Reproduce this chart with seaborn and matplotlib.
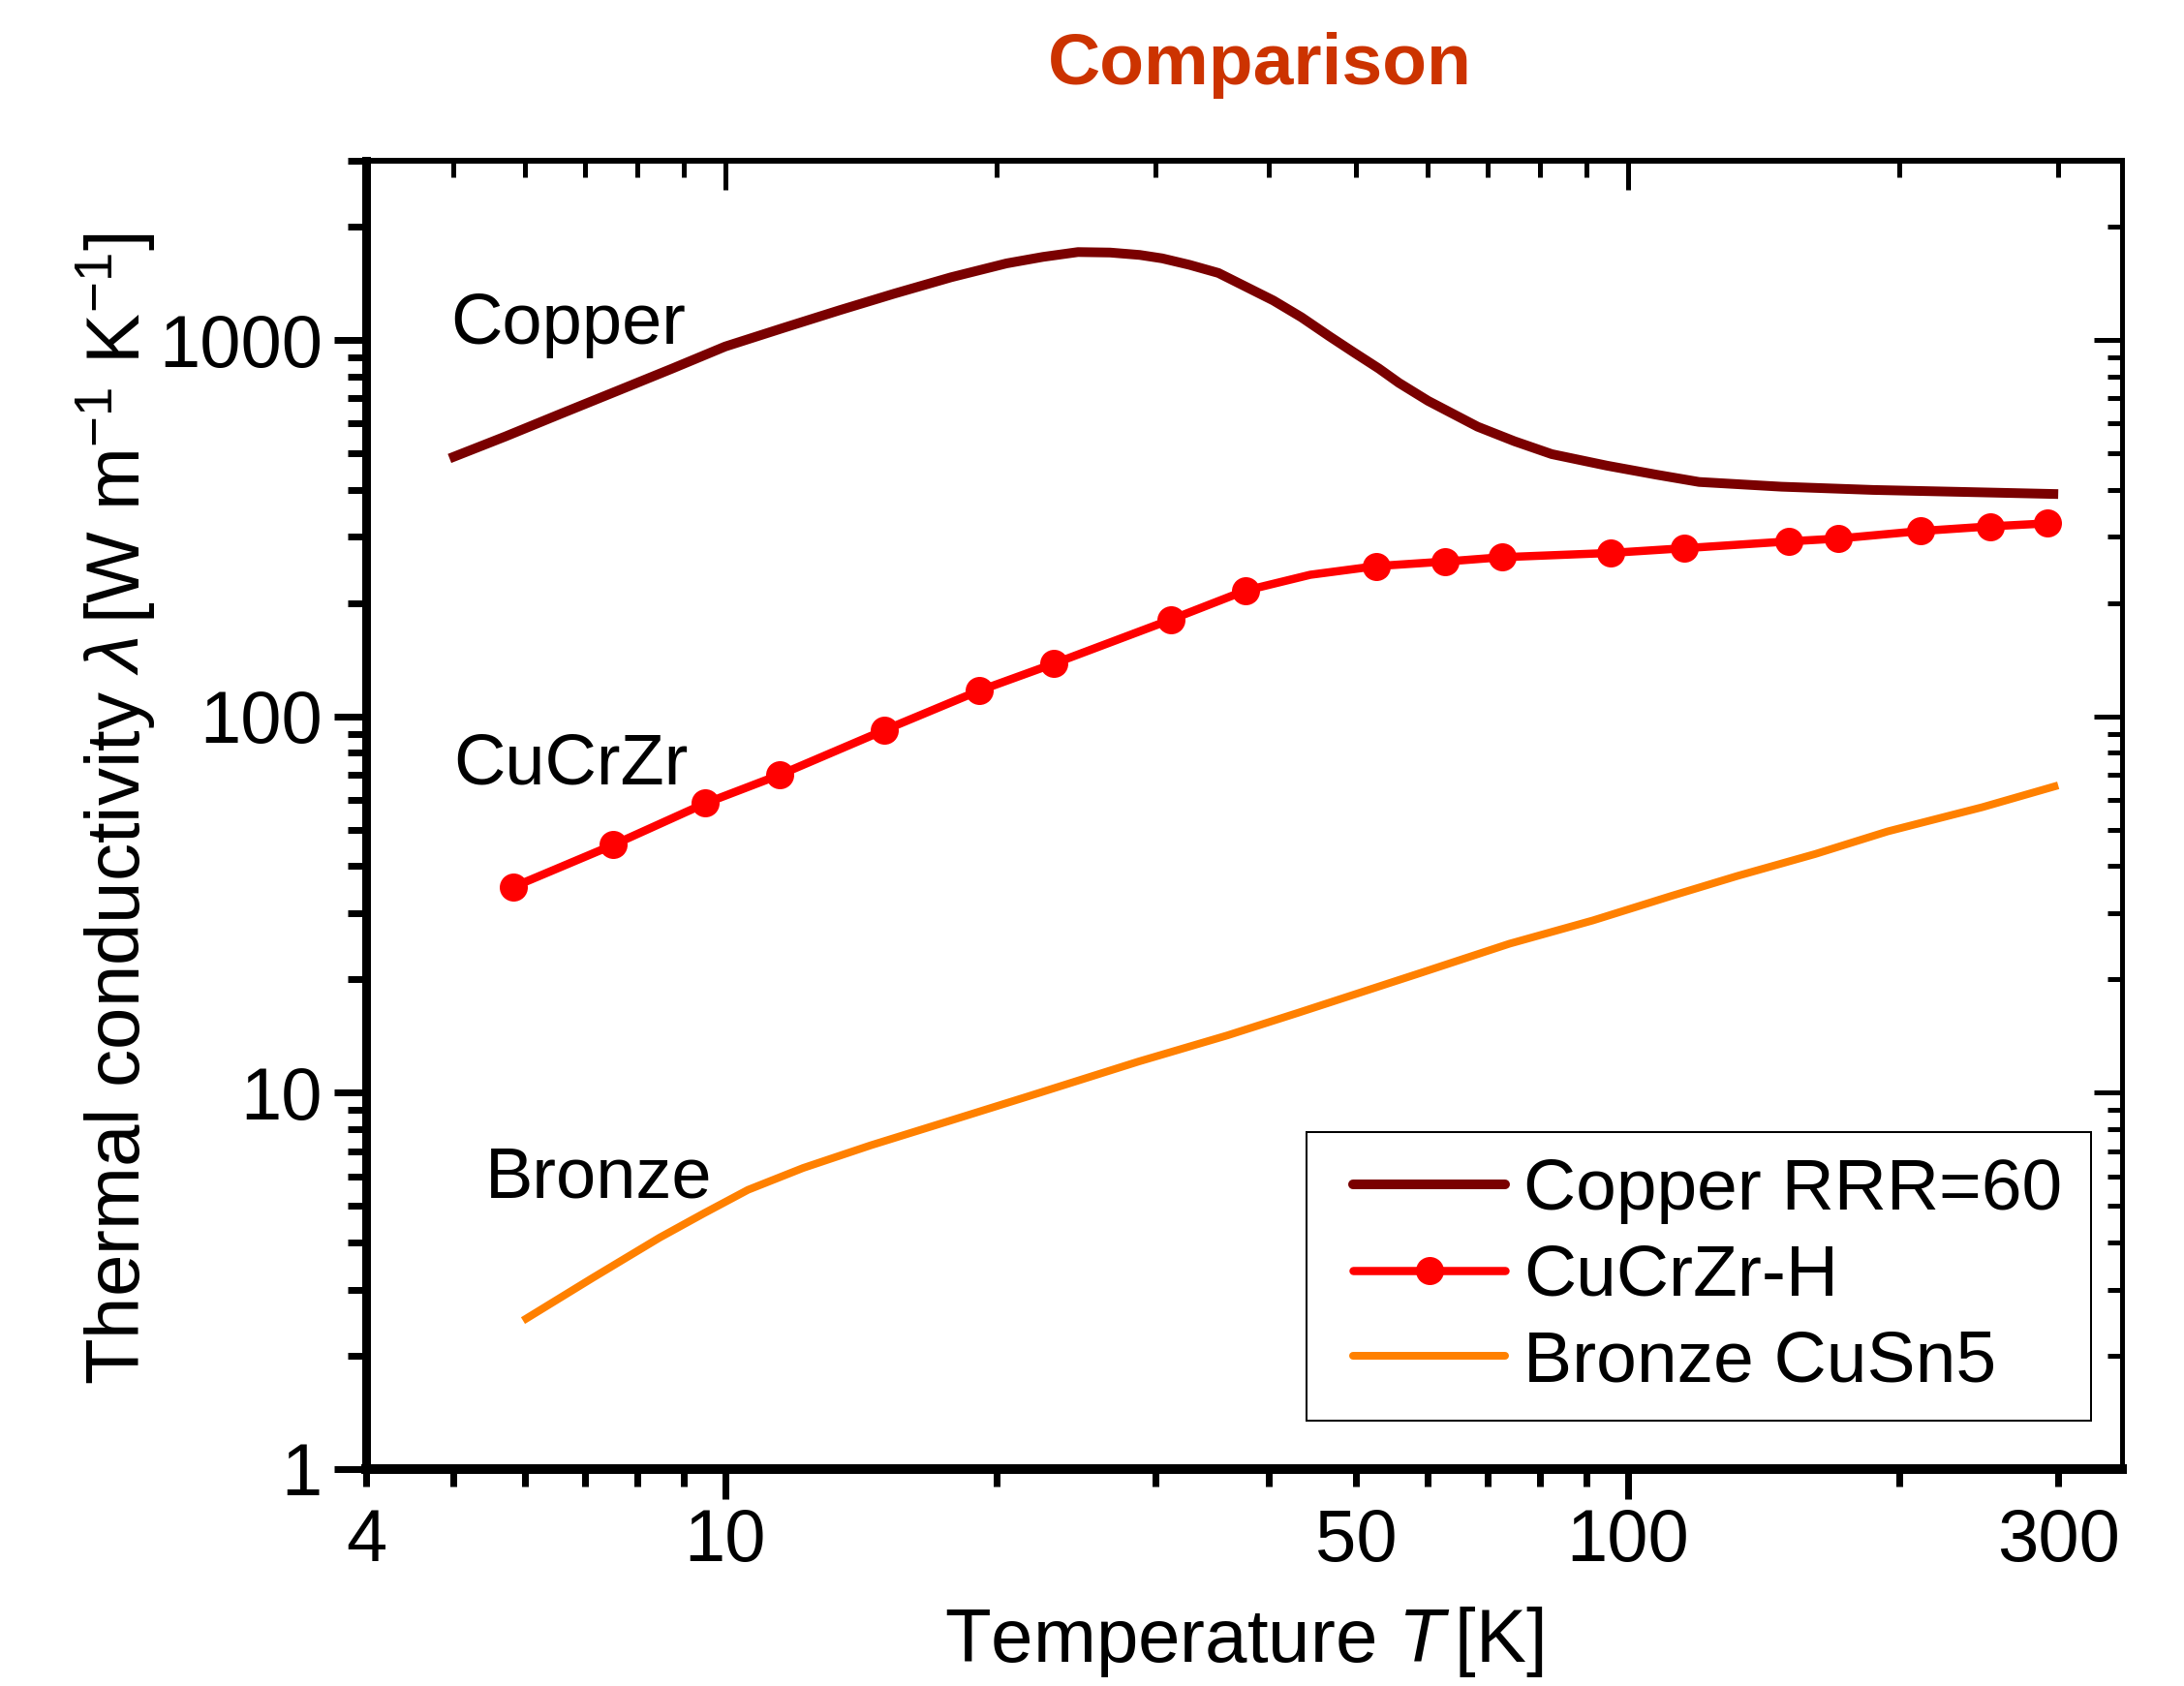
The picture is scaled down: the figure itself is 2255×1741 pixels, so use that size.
import matplotlib
matplotlib.use("Agg")
import matplotlib.pyplot as plt
import seaborn as sns
import pandas as pd
from matplotlib.patches import Rectangle
from matplotlib.lines import Line2D
from matplotlib.ticker import FixedLocator, FixedFormatter, NullFormatter

# ---------------- data ----------------
copper_T = [4.95, 5.71, 6.58, 7.58, 8.74, 10.0, 11.6, 13.4, 15.4, 17.8, 20.5, 22.5,
            24.6, 26.7, 28.8, 30.5, 32.7, 35.2, 40.5, 43.5, 46.7, 49.7, 53.0, 55.8,
            60.1, 68.2, 74.9, 82.4, 94.9, 107.7, 120, 148, 187, 237, 300]
copper_k = [485, 555, 638, 732, 841, 962, 1078, 1202, 1330, 1470, 1600, 1665,
            1715, 1710, 1685, 1650, 1586, 1509, 1275, 1151, 1025, 929, 841, 770,
            690, 589, 539, 498, 464, 439, 420, 408, 400, 395, 390]

# CuCrZr-H: measured points (markers) and the connecting line
cucrzr_T = [5.82, 7.52, 9.51, 11.5, 15.0, 19.1, 23.1, 31.2, 37.7, 52.7, 62.7,
            72.6, 95.7, 115.6, 151, 171, 211, 252, 292]
cucrzr_k = [35.2, 45.6, 58.8, 70.0, 91.9, 117, 138, 181, 216, 251, 258,
            265, 272, 280, 292, 297, 311, 320, 326]
cucrzr_line_T = [5.82, 7.52, 9.51, 11.5, 15.0, 19.1, 23.1, 31.2, 37.7, 44.5, 52.7,
                 62.7, 72.6, 95.7, 115.6, 151, 171, 211, 252, 292]
cucrzr_line_k = [35.2, 45.6, 58.8, 70.0, 91.9, 117, 138, 181, 216, 238, 251,
                 258, 265, 272, 280, 292, 297, 311, 320, 326]

bronze_T = [5.97, 7.13, 8.46, 9.47, 10.6, 12.2, 14.5, 17.7, 21.6, 28.7, 36.0,
            43.1, 58.9, 74.0, 91.5, 111.6, 132.4, 161.4, 194.2, 247.2, 300]
bronze_k = [2.48, 3.22, 4.12, 4.78, 5.52, 6.31, 7.25, 8.41, 9.76, 12.1, 14.2,
            16.3, 20.8, 24.9, 28.7, 33.3, 37.7, 43.1, 49.5, 57.4, 65.6]

series_labels = ["Copper RRR=60", "CuCrZr-H", "Bronze CuSn5"]
series_colors = ["#7A0000", "#FF0000", "#FF8000"]

annot_texts = ["Copper", "CuCrZr", "Bronze"]
annot_T = [4.96, 5.0, 5.42]
annot_k = [976, 66.0, 5.26]

x_major = [10, 100]
x_major_labels = ["10", "100"]
x_minor = [4, 5, 6, 7, 8, 9, 20, 30, 40, 50, 60, 70, 80, 90, 200, 300]
x_minor_labels = ["4", "", "", "", "", "", "", "", "", "50", "", "", "", "", "", "300"]
y_major = [1, 10, 100, 1000]
y_major_labels = ["1", "10", "100", "1000"]
y_minor = [2, 3, 4, 5, 6, 7, 8, 9, 20, 30, 40, 50, 60, 70, 80, 90,
           200, 300, 400, 500, 600, 700, 800, 900, 2000, 3000]

title_text = "Comparison"
xlabel_text = r"Temperature $T\,$[K]"
ylabel_text = r"Thermal conductivity $\lambda\,$[W m$^{-1}$ K$^{-1}$]"

# ---------------- style ----------------
sns.set_theme(style="white")
plt.rcParams["font.family"] = ["Liberation Sans", "DejaVu Sans"]
plt.rcParams["mathtext.fontset"] = "custom"
plt.rcParams["mathtext.rm"] = "Liberation Sans"
plt.rcParams["mathtext.it"] = "Liberation Sans:italic"
plt.rcParams["mathtext.bf"] = "Liberation Sans:bold"
for key in ["text.color", "axes.labelcolor", "xtick.color", "ytick.color",
            "axes.edgecolor", "xtick.labelcolor", "ytick.labelcolor"]:
    plt.rcParams[key] = "black"

FS_TICK = 76
FS_LABEL = 78
FS_ANNOT = 74
FS_LEG = 75
DPI = 72
fig = plt.figure(figsize=(2255 / DPI, 1741 / DPI), dpi=DPI)
fig.patch.set_facecolor("white")
ax = fig.add_axes([0.1676, 0.1287, 0.9716 - 0.1676, 0.9047 - 0.1287])

df_cu = pd.DataFrame({"T": copper_T, "k": copper_k})
df_czl = pd.DataFrame({"T": cucrzr_line_T, "k": cucrzr_line_k})
df_cz = pd.DataFrame({"T": cucrzr_T, "k": cucrzr_k})
df_br = pd.DataFrame({"T": bronze_T, "k": bronze_k})

sns.lineplot(data=df_cu, x="T", y="k", ax=ax, color=series_colors[0], lw=10,
             estimator=None, sort=False, solid_capstyle="butt")
sns.lineplot(data=df_czl, x="T", y="k", ax=ax, color=series_colors[1], lw=8.5,
             estimator=None, sort=False, solid_capstyle="butt")
sns.scatterplot(data=df_cz, x="T", y="k", ax=ax, color=series_colors[1],
                s=29 ** 2, linewidth=0, zorder=3)
sns.lineplot(data=df_br, x="T", y="k", ax=ax, color=series_colors[2], lw=8,
             estimator=None, sort=False, solid_capstyle="butt")

ax.set_xscale("log")
ax.set_yscale("log")
ax.set_xlim(4, 353)
ax.set_ylim(1, 3000)

# bottom / left ticks (outward)
ax.xaxis.set_major_locator(FixedLocator(x_major))
ax.xaxis.set_major_formatter(FixedFormatter(x_major_labels))
ax.xaxis.set_minor_locator(FixedLocator(x_minor))
ax.xaxis.set_minor_formatter(FixedFormatter(x_minor_labels))
ax.yaxis.set_major_locator(FixedLocator(y_major))
ax.yaxis.set_major_formatter(FixedFormatter(y_major_labels))
ax.yaxis.set_minor_locator(FixedLocator(y_minor))
ax.yaxis.set_minor_formatter(NullFormatter())

ax.tick_params(axis="x", which="major", direction="out", length=31, width=7,
               pad=9, labelsize=FS_TICK, bottom=True, top=False,
               color="black", labelcolor="black")
ax.tick_params(axis="x", which="minor", direction="out", length=18, width=7,
               pad=22, labelsize=FS_TICK, bottom=True, top=False,
               color="black", labelcolor="black")
ax.tick_params(axis="y", which="major", direction="out", length=33, width=7,
               pad=12, labelsize=FS_TICK, left=True, right=False,
               color="black", labelcolor="black")
ax.tick_params(axis="y", which="minor", direction="out", length=19, width=7,
               left=True, right=False, color="black")

for side, w in [("left", 9), ("bottom", 10), ("top", 6), ("right", 5)]:
    ax.spines[side].set_visible(True)
    ax.spines[side].set_linewidth(w)
    ax.spines[side].set_color("black")

# top ticks (inward)
axt = ax.twiny()
axt.set_xscale("log")
axt.set_xlim(4, 353)
axt.xaxis.set_major_locator(FixedLocator(x_major))
axt.xaxis.set_minor_locator(FixedLocator(x_minor))
axt.xaxis.set_major_formatter(NullFormatter())
axt.xaxis.set_minor_formatter(NullFormatter())
axt.tick_params(axis="x", which="major", direction="in", length=30, width=5,
                top=True, bottom=False, labeltop=False, color="black")
axt.tick_params(axis="x", which="minor", direction="in", length=17, width=5,
                top=True, bottom=False, labeltop=False, color="black")
for s in axt.spines.values():
    s.set_visible(False)

# right ticks (inward)
axr = ax.twinx()
axr.set_yscale("log")
axr.set_ylim(1, 3000)
axr.yaxis.set_major_locator(FixedLocator(y_major))
axr.yaxis.set_minor_locator(FixedLocator(y_minor))
axr.yaxis.set_major_formatter(NullFormatter())
axr.yaxis.set_minor_formatter(NullFormatter())
axr.tick_params(axis="y", which="major", direction="in", length=29, width=5,
                right=True, left=False, labelright=False, color="black")
axr.tick_params(axis="y", which="minor", direction="in", length=15, width=5,
                right=True, left=False, labelright=False, color="black")
for s in axr.spines.values():
    s.set_visible(False)

# labels
ax.set_xlabel(xlabel_text, fontsize=FS_LABEL, color="black")
ax.set_ylabel(ylabel_text, fontsize=FS_LABEL, color="black")
ax.xaxis.set_label_coords(0.5, -0.104)
ax.yaxis.set_label_coords(-0.1185, 0.505)

fig.text(0.577, 1 - 87 / 1741, title_text, ha="center", va="baseline",
         fontsize=75, fontweight="bold", color="#CC3300")

for t, xv, yv in zip(annot_texts, annot_T, annot_k):
    ax.text(xv, yv, t, fontsize=FS_ANNOT, ha="left", va="baseline", color="black")

# legend with a separate frame rectangle
handles = [
    Line2D([], [], color=series_colors[0], lw=10),
    Line2D([], [], color=series_colors[1], lw=8.5, marker="o", markersize=29,
           markeredgewidth=0),
    Line2D([], [], color=series_colors[2], lw=8),
]
frame = Rectangle((0.5358, 0.037), 0.4466, 0.2208, transform=ax.transAxes,
                  facecolor="white", edgecolor="black", lw=2, zorder=4)
ax.add_patch(frame)
leg = ax.legend(handles, series_labels, loc="upper left",
                bbox_to_anchor=(0.5623, 0.238), frameon=False, borderpad=0,
                borderaxespad=0, handlelength=157 / FS_LEG, handletextpad=0.25,
                labelspacing=0.26, numpoints=1, fontsize=FS_LEG)
for txt in leg.get_texts():
    txt.set_color("black")
leg.set_zorder(5)

fig.savefig("out.png", dpi=DPI, facecolor="white")
